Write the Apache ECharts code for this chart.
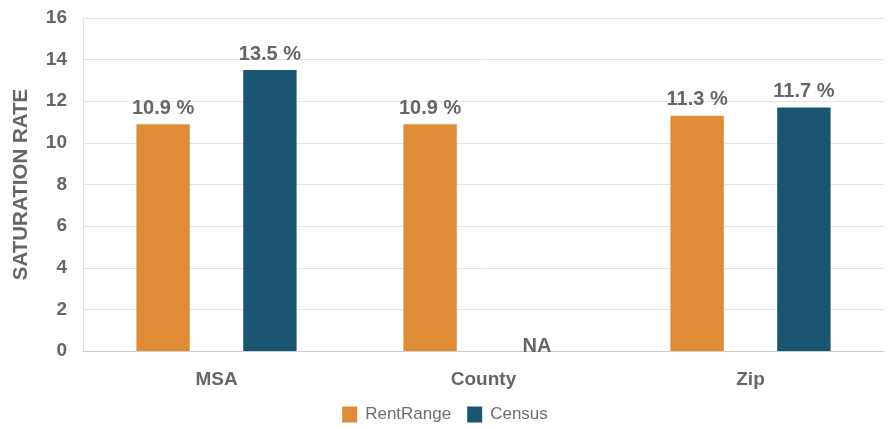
<!DOCTYPE html>
<html><head><meta charset="utf-8">
<script src="https://cdn.jsdelivr.net/npm/echarts@6/dist/echarts.min.js"></script>
<style>html,body{margin:0;padding:0;background:#fff}#c{width:890px;height:429px}</style>
</head><body><div id="c"></div>
<script>
const categories = ['MSA', 'County', 'Zip'];
const rentRange = [10.9, 10.9, 11.3];
const census = [13.5, 0, 11.7];
const censusLabels = ['13.5 %', 'NA', '11.7 %'];
const seriesNames = ['RentRange', 'Census'];

const chart = echarts.init(document.getElementById('c'));
const font = 'Liberation Sans, Arial, sans-serif';
chart.setOption({
  animation: false,
  textStyle: { fontFamily: font },
  grid: { left: 83, right: 6, top: 18, bottom: 78 },
  legend: {
    bottom: 1, left: 'center', itemWidth: 15, itemHeight: 16, itemGap: 16,
    icon: 'rect',
    textStyle: { fontSize: 17, color: '#6e6e6e', fontFamily: font, padding: [0, 0, 0, 3] },
    data: seriesNames
  },
  xAxis: {
    type: 'category', data: categories,
    axisLine: { lineStyle: { color: '#ccc' } },
    axisTick: { show: false },
    axisLabel: { fontSize: 19, fontWeight: 'bold', color: '#666', margin: 19, fontFamily: font }
  },
  yAxis: {
    type: 'value', min: 0, max: 16, interval: 2,
    name: 'SATURATION RATE', nameLocation: 'middle', nameGap: 51,
    nameTextStyle: { fontSize: 20.5, fontWeight: 'bold', color: '#666', fontFamily: font },
    axisLine: { show: true, lineStyle: { color: '#e3e3e3' } },
    axisTick: { show: false },
    splitLine: { lineStyle: { color: '#e3e3e3' } },
    axisLabel: { fontSize: 19, fontWeight: 'bold', color: '#666', margin: 16, fontFamily: font }
  },
  series: [
    {
      name: seriesNames[0], type: 'bar', data: rentRange,
      barWidth: '20%', barGap: '100%',
      itemStyle: { color: '#E08B36' },
      label: { show: true, position: 'top', distance: 6, fontSize: 20, fontWeight: 'bold', color: '#666', fontFamily: font,
        formatter: p => p.value + ' %' }
    },
    {
      name: seriesNames[1], type: 'bar',
      data: census.map((v, i) => ({
        value: v,
        label: censusLabels[i] === 'NA' ? { offset: [0, 11] } : {}
      })),
      barWidth: '20%',
      itemStyle: { color: '#1A5672' },
      label: { show: true, position: 'top', distance: 6, fontSize: 20, fontWeight: 'bold', color: '#666', fontFamily: font,
        formatter: p => censusLabels[p.dataIndex] }
    }
  ]
});
</script></body></html>
